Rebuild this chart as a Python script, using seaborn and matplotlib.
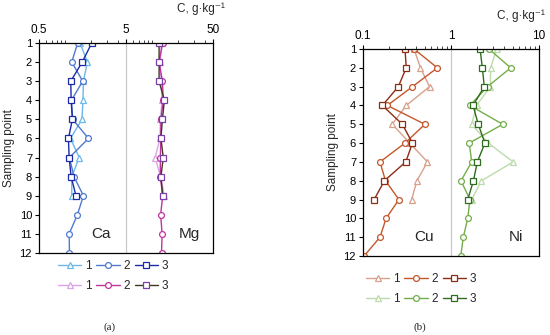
import numpy as np
import pandas as pd
import matplotlib
matplotlib.use("Agg")
import matplotlib.pyplot as plt
import matplotlib.ticker as mticker
import seaborn as sns

# pontos de amostragem
points = list(range(1, 13))

# Ca / Mg, g/kg (series 1 and 3 only for points 1-9)
ca1 = [1.48, 1.80, 1.62, 1.60, 1.56, 1.15, 1.45, 1.19, 1.19]
ca2 = [1.39, 1.19, 1.59, 1.18, 1.22, 1.85, 1.12, 1.26, 1.62, 1.38, 1.11, 1.12]
ca3 = [2.02, 1.57, 1.16, 1.17, 1.21, 1.09, 1.11, 1.17, 1.33]
mg1 = [12.8, 12.3, 12.6, 13.0, 12.4, 12.3, 10.8, 12.5, 13.8]
mg2 = [13.2, 12.0, 13.1, 13.4, 12.6, 12.6, 12.4, 12.4, 13.2, 12.5, 13.0, 12.8]
mg3 = [12.0, 12.0, 12.0, 13.8, 13.1, 12.6, 13.4, 12.6, 13.2]

# Cu / Ni
cu1 = [0.38, 0.45, 0.57, 0.31, 0.215, 0.34, 0.54, 0.41, 0.357]
cu2 = [0.38, 0.70, 0.365, 0.189, 0.505, 0.30, 0.156, 0.18, 0.256, 0.183, 0.156, 0.103]
cu3 = [0.30, 0.31, 0.252, 0.166, 0.28, 0.365, 0.306, 0.175, 0.134]
ni1 = [3.3, 2.82, 2.8, 1.95, 1.72, 2.65, 5.1, 2.22, 1.72]
ni2 = [2.7, 4.77, 2.6, 1.64, 3.87, 1.61, 1.72, 1.30, 1.64, 1.55, 1.38, 1.29]
ni3 = [2.14, 2.27, 2.39, 1.78, 2.04, 2.43, 1.99, 1.80, 1.55]

series_labels = ['1', '2', '3']
markers = ['^', 'o', 's']

sns.set_style('ticks')
plt.rcParams['font.family'] = ['Liberation Sans', 'DejaVu Sans']

fig = plt.figure(figsize=(5.5, 3.35), dpi=100)
ax_a = fig.add_axes([0.0709, 0.2448, 0.3164, 0.6269])
ax_b = fig.add_axes([0.66, 0.2358, 0.32, 0.6179])


def draw(ax, groups, xlim, vline, xticks, xticklabels, names, name_x):
    for vals_list, colors in groups:
        for vals, col, mk, lab in zip(vals_list, colors, markers, series_labels):
            line_col, mk_col = col
            df = pd.DataFrame({'C': vals, 'point': points[:len(vals)]})
            sns.lineplot(data=df, x='C', y='point', sort=False, estimator=None,
                         ax=ax, color=line_col, marker=mk, markersize=4.2,
                         markerfacecolor='white', markeredgecolor=mk_col,
                         markeredgewidth=0.9, linewidth=1.0, label=lab,
                         legend=False)
    ax.axvline(vline, color='#c8c8c8', lw=0.9, zorder=0)
    ax.set_xscale('log')
    ax.set_xlim(*xlim)
    ax.set_ylim(12, 1)
    ax.set_yticks(points)
    ax.xaxis.tick_top()
    ax.xaxis.set_major_locator(mticker.FixedLocator(xticks))
    ax.xaxis.set_major_formatter(mticker.FixedFormatter(xticklabels))
    ax.xaxis.set_minor_locator(mticker.LogLocator(base=10, subs=np.arange(1, 10)))
    ax.xaxis.set_minor_formatter(mticker.NullFormatter())
    ax.tick_params(axis='both', labelsize=8, direction='out', length=3, width=0.8,
                   pad=2, colors='black')
    ax.tick_params(axis='x', labelsize=8.5)
    ax.tick_params(axis='x', which='minor', length=2, width=0.6)
    ax.set_xlabel('')
    ax.set_ylabel('Sampling point', fontsize=8.5, labelpad=3)
    for sp in ax.spines.values():
        sp.set_visible(True)
        sp.set_linewidth(0.9)
        sp.set_color('black')
    for nm, xx in zip(names, name_x):
        ax.text(xx, 11, nm, fontsize=11, ha='center', va='center')


draw(ax_a,
     [([ca1, ca2, ca3], [('#6cb8ea', '#6cb8ea'), ('#4f79d0', '#4f79d0'), ('#1c2aa8', '#1c2aa8')]),
      ([mg1, mg2, mg3], [('#dba4e6', '#dba4e6'), ('#c0339e', '#c0339e'), ('#3d3a1e', '#7a3fa8')])],
     (0.5, 50), 5, [0.5, 5, 50], ['0.5', '5', '50'], ['Ca', 'Mg'], [2.6, 27])
draw(ax_b,
     [([cu1, cu2, cu3], [('#d9a08c', '#d9a08c'), ('#c4562b', '#c4562b'), ('#8c2c14', '#8c2c14')]),
      ([ni1, ni2, ni3], [('#bddbab', '#bddbab'), ('#72ae4a', '#72ae4a'), ('#2f6c1f', '#2f6c1f')])],
     (0.1, 10), 1, [0.1, 1, 10], ['0.1', '1', '10'], ['Cu', 'Ni'], [0.5, 5.4])

fig.text(225 / 550, 1 - 9 / 335, 'C, g·kg⁻¹', fontsize=8.5, ha='right', va='center')
fig.text(545 / 550, 1 - 16 / 335, 'C, g·kg⁻¹', fontsize=8.5, ha='right', va='center')

# legends below panels
leg_pos = [(ax_a, 0, 113 / 550, 1 - 266 / 335), (ax_a, 3, 113 / 550, 1 - 286 / 335),
           (ax_b, 0, 421 / 550, 1 - 279 / 335), (ax_b, 3, 421 / 550, 1 - 299 / 335)]
for ax, start, lx, ly in leg_pos:
    handles = ax.get_lines()
    handles = [h for h in handles if h.get_label() in series_labels][start:start + 3]
    fig.legend(handles, series_labels, ncol=3, loc='center', bbox_to_anchor=(lx, ly),
               frameon=False, fontsize=8.5, handlelength=2.0, handletextpad=0.3,
               columnspacing=0.4, borderpad=0.1)

fig.text(110 / 550, 1 - 327 / 335, '(a)', fontsize=8, ha='center', va='center',
         family='Liberation Serif')
fig.text(420 / 550, 1 - 327 / 335, '(b)', fontsize=8, ha='center', va='center',
         family='Liberation Serif')

fig.savefig('out.png', dpi=100)
